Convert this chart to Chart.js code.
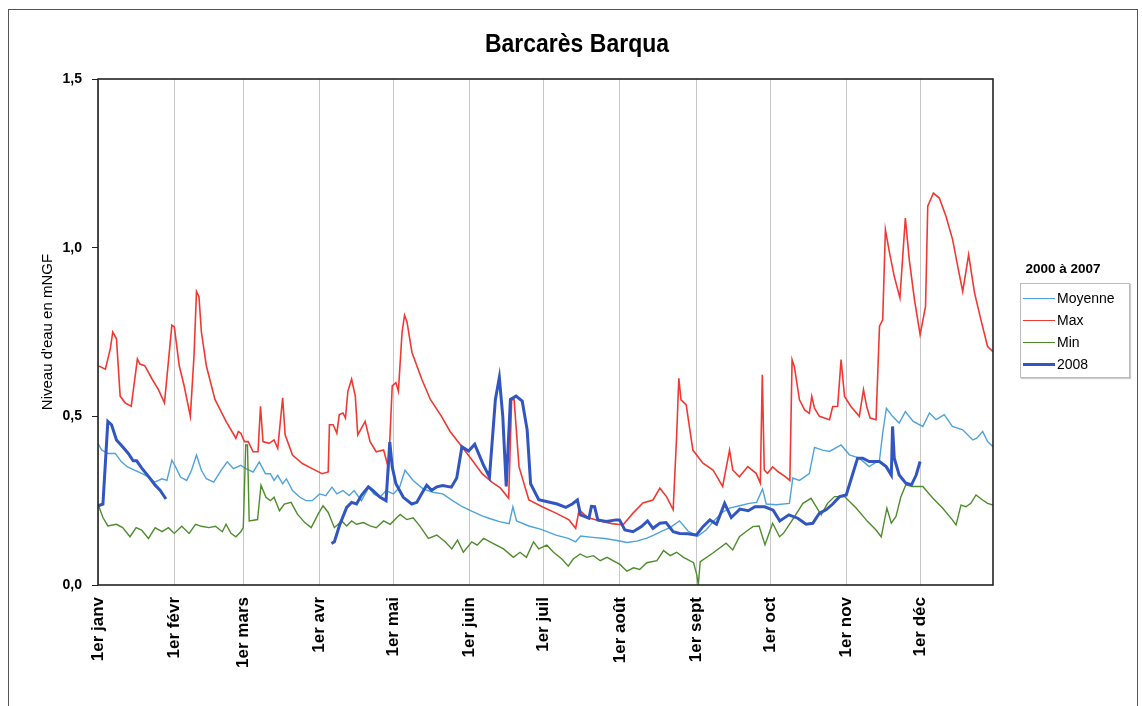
<!DOCTYPE html>
<html lang="fr">
<head>
<meta charset="utf-8">
<title>Barcarès Barqua</title>
<script src="https://cdn.jsdelivr.net/npm/chart.js@4.4.1/dist/chart.umd.min.js"></script>
<style>
    html, body { margin: 0; padding: 0; background: #fff; }
    body { width: 1142px; height: 706px; position: relative; overflow: hidden; font-family: 'Liberation Sans', Arial, sans-serif; color: #000; }
    #frame { position: absolute; left: 8px; top: 9px; width: 1128px; height: 720px; border: 1px solid #555; }
    #chart { position: absolute; left: 0; top: 0; }
    .chart-title { position: absolute; left: 12px; top: 30px; width: 1130px; text-align: center; font-size: 23px; font-weight: bold; transform: scaleY(1.12); }
    .legend-title { position: absolute; left: 1007px; top: 261px; width: 112px; text-align: center; font-size: 13.5px; font-weight: bold; }
    .legend { position: absolute; left: 1020px; top: 283px; width: 108px; padding: 3px 0 2px 0; border: 1px solid #bbb; box-shadow: 1px 1px 1px #ccc; background: #fff; }
    .legend-item { display: flex; align-items: center; height: 22px; font-size: 14px; }
    .legend-line { width: 32px; margin: 0 2px 0 2px; }
</style>
</head>
<body>
<div id="frame"></div>
<canvas id="chart" width="1142" height="706"></canvas>
<div class="chart-title">Barcarès Barqua</div>
<div class="legend-title">2000 à 2007</div>
<div class="legend" id="customLegend"></div>

<script>
// Month starts (day of year) and their labels
const monthStarts = [0, 31, 59, 90, 120, 151, 181, 212, 243, 273, 304, 334];
const monthLabels = ['1er janv', '1er févr', '1er mars', '1er avr', '1er mai', '1er juin',
    '1er juil', '1er août', '1er sept', '1er oct', '1er nov', '1er déc'];
const yTicks = [0, 0.5, 1.0, 1.5];
const lastDay = 363.5;

// [day, level in mNGF]
const moyenne = [
    [0,0.42],[1.5,0.40],[4,0.39],[7,0.39],[9.5,0.365],[12,0.35],[15,0.34],[18,0.33],[20.5,0.32],[23,0.305],
    [26,0.315],[28,0.31],[30,0.37],[31.5,0.35],[33.5,0.32],[36,0.31],[38,0.34],[40,0.385],[42,0.34],[44,0.315],
    [47,0.305],[50,0.34],[52.5,0.365],[55,0.345],[58,0.355],[60,0.345],[63,0.335],[65.5,0.365],[68,0.33],[70,0.33],
    [71.5,0.31],[73,0.325],[75,0.30],[76.5,0.315],[79,0.28],[82,0.26],[84.5,0.25],[87,0.25],[90,0.27],[92.5,0.265],
    [95,0.29],[97,0.27],[99.5,0.28],[102,0.265],[104,0.28],[107,0.25],[110,0.29],[112,0.27],[114.5,0.26],[117,0.28],
    [120,0.27],[122.5,0.29],[124.7,0.34],[128,0.31],[132,0.285],[136,0.275],[140,0.27],[144,0.25],[148,0.232],[152,0.218],
    [156,0.205],[160,0.195],[163,0.188],[167,0.182],[168.5,0.232],[170,0.19],[175,0.175],[180,0.165],[186,0.148],[191,0.138],
    [194,0.128],[196,0.145],[199.9,0.142],[205.8,0.138],[210.8,0.132],[214.8,0.126],[218.7,0.13],[222.7,0.138],[225.7,0.148],[229.7,0.162],
    [232.3,0.17],[236.2,0.19],[239.6,0.16],[243.6,0.145],[247,0.163],[250.1,0.19],[253.5,0.215],[256.5,0.228],[260.5,0.235],[264.5,0.242],
    [267.5,0.245],[269.9,0.285],[271.4,0.24],[275.4,0.238],[280.8,0.242],[282.2,0.317],[284.9,0.31],[288.9,0.33],[291,0.408],[294.3,0.40],
    [297.1,0.396],[301.8,0.415],[305.2,0.386],[309.2,0.376],[313.2,0.351],[317.4,0.37],[318.7,0.45],[320.2,0.524],[322.7,0.50],[325.4,0.48],
    [327.9,0.514],[331.1,0.485],[335,0.47],[337.7,0.51],[340.4,0.49],[343.7,0.505],[347,0.47],[351.2,0.46],[355.3,0.43],[356.9,0.435],
    [359.3,0.455],[361.3,0.425],[363.5,0.41]
];

const maxi = [
    [0,0.65],[3,0.64],[5,0.70],[6,0.75],[7.5,0.73],[9,0.56],[11,0.54],[13.5,0.53],[16,0.67],[17,0.655],
    [19,0.65],[22,0.61],[24.5,0.58],[27,0.54],[30,0.77],[31,0.765],[33,0.65],[35,0.59],[37.5,0.50],[39,0.68],
    [40,0.87],[41,0.855],[42,0.75],[44,0.65],[47.5,0.55],[52,0.485],[56,0.435],[57,0.455],[58,0.45],[59.5,0.425],
    [61,0.425],[63,0.395],[65,0.395],[66,0.53],[67,0.425],[69.5,0.42],[71.5,0.43],[73,0.405],[75,0.555],[76,0.445],
    [79,0.385],[83,0.36],[87,0.345],[91,0.33],[93.5,0.335],[94,0.475],[95.5,0.475],[97,0.45],[98,0.505],[99.5,0.51],
    [100.5,0.495],[101.5,0.575],[103,0.61],[104.5,0.56],[105.5,0.445],[108.5,0.485],[110.5,0.425],[113,0.395],[116,0.40],[118,0.345],
    [119.5,0.59],[121,0.60],[122,0.575],[123.5,0.75],[124.5,0.80],[125.5,0.78],[127.5,0.69],[129.5,0.65],[131.5,0.61],[135,0.55],
    [139.5,0.50],[143,0.455],[147.8,0.41],[152,0.37],[156,0.33],[160,0.305],[163.5,0.287],[166.8,0.257],[168,0.549],[169,0.549],
    [171,0.35],[175,0.252],[180.4,0.232],[186,0.213],[191.3,0.193],[194,0.168],[195.4,0.223],[198.9,0.20],[203.8,0.19],[208.8,0.182],
    [213.2,0.178],[217.3,0.213],[221.3,0.243],[225.4,0.252],[228.2,0.287],[230.9,0.262],[233.6,0.223],[235,0.44],[235.9,0.613],[236.8,0.549],
    [238.9,0.534],[241.6,0.40],[245.7,0.361],[249.8,0.341],[253.7,0.292],[256.5,0.40],[257.8,0.341],[260.5,0.321],[263.9,0.351],[267.3,0.331],
    [269,0.302],[269.8,0.623],[270.6,0.341],[271.9,0.331],[274,0.35],[276.4,0.335],[279.4,0.32],[281,0.31],[281.9,0.668],[282.8,0.648],
    [284.9,0.549],[287,0.519],[288.9,0.509],[289.9,0.559],[291,0.524],[293,0.50],[297.1,0.49],[298.4,0.529],[300.4,0.529],[301.8,0.668],
    [303.2,0.559],[305.8,0.529],[309.2,0.50],[310.9,0.579],[312.2,0.529],[313.6,0.495],[316,0.49],[317.4,0.767],[318.7,0.786],[319.8,1.053],
    [321.5,0.984],[323.4,0.915],[325.7,0.851],[327.9,1.088],[329.5,0.964],[331.6,0.846],[333.9,0.742],[336.1,0.826],[337,1.123],[339.3,1.162],
    [341.7,1.147],[344.4,1.093],[347.1,1.024],[349.2,0.944],[351.2,0.87],[353.6,0.979],[356,0.866],[358.6,0.786],[361.3,0.707],[363.5,0.692]
];

const mini = [
    [0,0.24],[2,0.20],[4,0.175],[7.5,0.18],[10,0.17],[13,0.143],[15.5,0.17],[17.7,0.163],[20.5,0.138],[23.2,0.17],
    [26,0.158],[28.6,0.17],[31,0.153],[34,0.174],[37,0.153],[39.6,0.18],[42,0.174],[45,0.17],[47.7,0.174],[50.5,0.158],
    [52,0.18],[54,0.153],[56,0.143],[58,0.158],[59,0.17],[60,0.415],[60.7,0.415],[61.4,0.19],[64.8,0.194],[66.2,0.296],
    [68.2,0.26],[70,0.25],[71.5,0.26],[73.7,0.22],[75.7,0.24],[78.4,0.245],[81,0.21],[84,0.185],[86.6,0.17],[89.4,0.21],
    [91.4,0.235],[93.5,0.215],[96,0.17],[99,0.19],[101,0.175],[103,0.19],[105,0.18],[107.8,0.185],[110.5,0.175],[113,0.17],
    [116,0.19],[118.7,0.18],[121.4,0.20],[122.7,0.209],[125.4,0.194],[128,0.199],[130.8,0.174],[134.2,0.138],[137.6,0.148],[141,0.128],
    [143.7,0.107],[146,0.133],[148.4,0.097],[151.8,0.128],[154,0.118],[156.6,0.138],[160.6,0.123],[164.7,0.107],[168.7,0.082],[171.4,0.097],
    [174,0.082],[176.9,0.128],[179,0.107],[182.3,0.118],[185,0.097],[188.4,0.077],[191,0.056],[193,0.077],[195.8,0.092],[198.5,0.082],
    [201.2,0.087],[204,0.072],[206.7,0.082],[212,0.061],[214.8,0.041],[217.5,0.051],[220,0.046],[222.9,0.066],[227,0.072],[229.7,0.102],
    [232.4,0.087],[235,0.097],[237.8,0.082],[241.9,0.066],[243.2,0.03],[243.8,0.0],[244.6,0.069],[249.6,0.094],[255.1,0.124],[257.8,0.104],
    [260.5,0.143],[263.5,0.16],[266,0.173],[268.5,0.175],[270.9,0.119],[274,0.183],[276.8,0.143],[278.4,0.153],[282.9,0.203],[286.3,0.242],
    [289.6,0.257],[291.6,0.233],[293.7,0.208],[296.3,0.242],[299.1,0.262],[303.2,0.262],[307.9,0.228],[312.6,0.188],[316,0.163],[318.1,0.143],
    [320.4,0.228],[322.2,0.183],[324.1,0.203],[326.1,0.262],[328.1,0.297],[330.8,0.292],[335,0.292],[339.1,0.257],[343,0.228],[347,0.193],
    [348.5,0.178],[350.5,0.237],[352.5,0.232],[354.5,0.242],[356.6,0.267],[359.3,0.252],[361.3,0.242],[363.5,0.237]
];

// 2008 record, with a gap (no readings) from February to early April
const annee2008 = [
    [0,0.235],[2,0.24],[4,0.485],[5.5,0.475],[7.5,0.43],[10,0.41],[12.3,0.39],[14.3,0.368],[15.7,0.368],[17.7,0.347],
    [20.5,0.322],[23.2,0.296],[25.2,0.281],[27.6,0.255],[60,null],
    [94.8,0.123],[96,0.128],[98.2,0.179],[101,0.23],[103,0.245],[105,0.24],[107,0.266],[109.8,0.291],[111.5,0.281],[114.6,0.26],
    [117,0.25],[118.5,0.424],[119.5,0.35],[121,0.30],[124,0.26],[127.4,0.24],[129.5,0.245],[131.5,0.271],[133.5,0.296],[135.5,0.281],
    [137.6,0.291],[140,0.295],[143.5,0.29],[145.7,0.317],[147.8,0.41],[150.5,0.397],[153,0.417],[156.6,0.355],[159,0.32],[161.4,0.55],
    [163,0.615],[164.4,0.50],[165.8,0.292],[167.5,0.55],[169.8,0.56],[172.3,0.545],[174.3,0.46],[175.7,0.30],[179,0.253],[183,0.246],
    [186.5,0.24],[190,0.23],[192.6,0.24],[194.7,0.252],[196,0.208],[199.4,0.198],[200.4,0.233],[201.7,0.232],[203,0.193],[206.4,0.188],
    [210.5,0.193],[211.8,0.193],[214,0.163],[217.3,0.158],[220.7,0.173],[223.2,0.19],[225.4,0.168],[228.2,0.183],[230.7,0.185],[233.6,0.158],
    [236.2,0.153],[239.6,0.152],[243,0.148],[245.7,0.173],[248.5,0.193],[251.2,0.18],[254.5,0.242],[257.2,0.2],[260.7,0.225],[264.1,0.22],
    [266.8,0.232],[270.8,0.232],[274.2,0.222],[276.9,0.19],[280.6,0.208],[284.2,0.198],[287.6,0.18],[290.3,0.183],[293,0.213],[295.7,0.223],
    [298.4,0.24],[301.2,0.262],[303.9,0.267],[305.8,0.312],[308.5,0.376],[310.6,0.376],[313.2,0.366],[317.4,0.366],[320.1,0.351],[322.2,0.326],
    [322.7,0.47],[323.4,0.376],[325.4,0.326],[328.1,0.302],[330.4,0.297],[332.3,0.326],[333.9,0.366]
];

const toPoints = (rows) => rows.map(([x, y]) => ({ x: x, y: y }));

// Black frame round the plot area
const plotFrame = {
    id: 'plotFrame',
    afterDraw(chart) {
        const { ctx, chartArea: a } = chart;
        ctx.save();
        ctx.strokeStyle = '#222';
        ctx.lineWidth = 1.6;
        ctx.strokeRect(a.left, a.top, a.right - a.left, a.bottom - a.top);
        ctx.restore();
    }
};

document.addEventListener('DOMContentLoaded', function() {
    const fontFamily = "'Liberation Sans', Arial, sans-serif";

    const series = [
        { label: 'Moyenne', data: moyenne, color: '#4ea3dc', width: 1.4, order: 3 },
        { label: 'Max', data: maxi, color: '#ee3a32', width: 1.6, order: 2 },
        { label: 'Min', data: mini, color: '#4e8c2c', width: 1.4, order: 1 },
        { label: '2008', data: annee2008, color: '#3256c0', width: 3, order: 0 }
    ];

    const ctx = document.getElementById('chart').getContext('2d');
    new Chart(ctx, {
        type: 'line',
        data: {
            datasets: series.map(s => ({
                label: s.label,
                data: toPoints(s.data),
                borderColor: s.color,
                backgroundColor: s.color,
                borderWidth: s.width,
                order: s.order,
                pointRadius: 0,
                tension: 0,
                spanGaps: false,
                fill: false
            }))
        },
        options: {
            responsive: false,
            animation: false,
            layout: { padding: { left: 34, right: 149, top: 79, bottom: 0 } },
            plugins: {
                legend: { display: false },
                tooltip: { enabled: false },
                title: { display: false }
            },
            scales: {
                x: {
                    type: 'linear',
                    min: 0,
                    max: lastDay,
                    afterBuildTicks: (axis) => { axis.ticks = monthStarts.map(v => ({ value: v })); },
                    afterFit: (axis) => { axis.height = 121; },
                    ticks: {
                        autoSkip: false,
                        minRotation: 90,
                        maxRotation: 90,
                        padding: 12,
                        color: '#000',
                        font: { family: fontFamily, size: 17, weight: 'bold' },
                        callback: (v) => monthLabels[monthStarts.indexOf(v)]
                    },
                    grid: { color: '#c8c8c8', lineWidth: 1, drawTicks: false },
                    border: { display: false }
                },
                y: {
                    min: 0,
                    max: 1.5,
                    afterBuildTicks: (axis) => { axis.ticks = yTicks.map(v => ({ value: v })); },
                    afterFit: (axis) => { axis.width = 64; },
                    ticks: {
                        padding: 10,
                        color: '#000',
                        font: { family: fontFamily, size: 14, weight: 'bold' },
                        callback: (v) => v.toFixed(1).replace('.', ',')
                    },
                    grid: { drawOnChartArea: false, drawTicks: true, tickLength: 6, tickColor: '#222' },
                    border: { display: false },
                    title: {
                        display: true,
                        text: "Niveau d'eau en mNGF",
                        color: '#000',
                        font: { family: fontFamily, size: 15 },
                        padding: { top: 5, bottom: 0 }
                    }
                }
            }
        },
        plugins: [plotFrame]
    });

    // Legend built from the same series
    const legendContainer = document.getElementById('customLegend');
    series.forEach(s => {
        const item = document.createElement('div');
        item.className = 'legend-item';
        item.innerHTML = `<span class="legend-line" style="border-top: ${s.width >= 3 ? 3 : 1.5}px solid ${s.color}"></span><span>${s.label}</span>`;
        legendContainer.appendChild(item);
    });
});
</script>
</body>
</html>
